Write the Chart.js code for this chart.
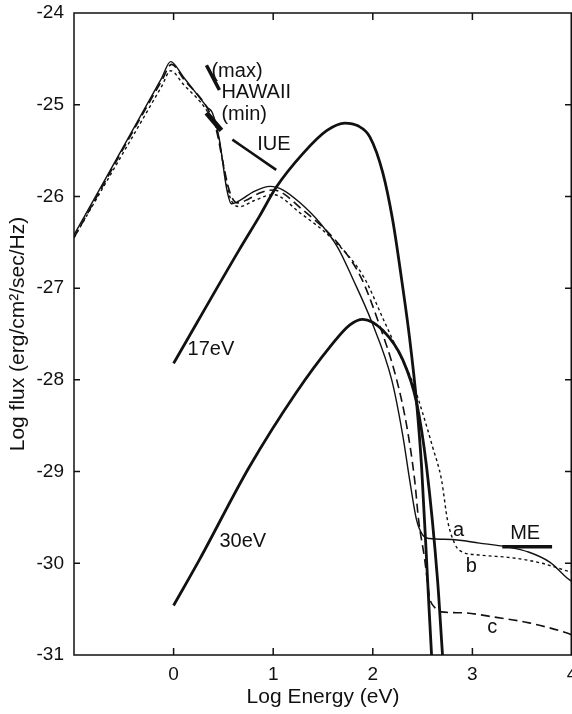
<!DOCTYPE html>
<html>
<head>
<meta charset="utf-8">
<script src="https://cdn.jsdelivr.net/npm/chart.js@4.4.0/dist/chart.umd.min.js"></script>
<style>
    html, body { margin: 0; padding: 0; background: #fff; }
    #canv { display: block; }
</style>
</head>
<body>
<canvas id="canv" width="572" height="714"></canvas>
<script>
// tick values
const xTicks = [0, 1, 2, 3, 4];
const yTicks = [-24, -25, -26, -27, -28, -29, -30, -31];

// curve a (thin solid)
const energyA = [-1, -0.12, -0.03, 0.10, 0.34, 0.39, 0.46, 0.53, 0.58, 0.67, 0.80, 0.97, 1.10, 1.27, 1.47, 1.65, 1.80, 1.99, 2.19, 2.30, 2.37, 2.44, 2.50, 2.57, 2.79, 3.07, 3.34, 3.57, 3.78, 3.95, 4.0];
const fluxA = [-26.42, -24.71, -24.53, -24.70, -25.03, -25.09, -25.38, -25.90, -26.08, -26.04, -25.95, -25.89, -25.93, -26.07, -26.29, -26.56, -26.90, -27.37, -28.00, -28.60, -29.09, -29.53, -29.69, -29.73, -29.74, -29.78, -29.82, -29.88, -29.99, -30.16, -30.20];

// curve b (dotted)
const energyB = [-1, -0.12, -0.03, 0.10, 0.33, 0.44, 0.49, 0.55, 0.60, 0.67, 0.80, 1.00, 1.27, 1.61, 1.91, 2.11, 2.25, 2.39, 2.50, 2.60, 2.69, 2.75, 2.82, 2.87, 3.07, 3.40, 3.70, 3.91, 4.0];
const fluxB = [-26.45, -24.80, -24.63, -24.78, -25.06, -25.30, -25.60, -25.95, -26.08, -26.11, -26.05, -25.98, -26.18, -26.48, -26.88, -27.35, -27.68, -28.00, -28.36, -28.73, -29.09, -29.53, -29.78, -29.86, -29.91, -29.94, -30.00, -30.07, -30.10];

// curve c (dashed)
const energyC = [-1, -0.12, -0.02, 0.10, 0.36, 0.43, 0.49, 0.55, 0.59, 0.64, 0.75, 0.87, 1.00, 1.30, 1.65, 1.88, 2.05, 2.24, 2.34, 2.42, 2.46, 2.52, 2.57, 2.62, 2.69, 2.90, 3.24, 3.57, 3.95, 4.0];
const fluxC = [-26.45, -24.74, -24.56, -24.72, -25.08, -25.28, -25.60, -25.90, -26.02, -26.07, -26.03, -25.96, -25.93, -26.15, -26.51, -26.88, -27.35, -28.00, -28.50, -29.09, -29.53, -29.95, -30.37, -30.48, -30.53, -30.54, -30.59, -30.65, -30.76, -30.78];

// blackbody 17 eV
const energy17 = [0, 0.66, 0.86, 1.03, 1.30, 1.54, 1.72, 1.85, 1.97, 2.10, 2.20, 2.29, 2.37, 2.44, 2.49, 2.55, 2.59, 2.61];
const flux17 = [-27.82, -26.58, -26.22, -25.90, -25.53, -25.28, -25.20, -25.23, -25.35, -25.74, -26.26, -26.91, -27.55, -28.25, -28.95, -30.18, -31.00, -31.30];

// blackbody 30 eV
const energy30 = [0, 0.26, 0.76, 1.23, 1.57, 1.77, 1.90, 2.10, 2.30, 2.44, 2.54, 2.65, 2.70, 2.72];
const flux30 = [-30.46, -29.96, -28.95, -28.14, -27.64, -27.40, -27.34, -27.46, -27.78, -28.25, -28.95, -30.18, -31.00, -31.30];

// observations
const energyMax = [0.33, 0.46];
const fluxMax = [-24.57, -24.84];
const energyMin = [0.33, 0.40, 0.48];
const fluxMin = [-25.09, -25.18, -25.28];
const energyIUE = [0.59, 1.03];
const fluxIUE = [-25.38, -25.71];
const energyME = [3.30, 3.80];
const fluxME = [-29.82, -29.82];

// text labels placed in data coordinates
const notes = [
    {text: '(max)', x: 0.38, y: -24.64, align: 'left'},
    {text: 'HAWAII', x: 0.48, y: -24.87, align: 'left'},
    {text: '(min)', x: 0.48, y: -25.11, align: 'left'},
    {text: 'IUE', x: 0.84, y: -25.43, align: 'left'},
    {text: '17eV', x: 0.14, y: -27.67, align: 'left'},
    {text: '30eV', x: 0.46, y: -29.76, align: 'left'},
    {text: 'a', x: 2.86, y: -29.64, align: 'center'},
    {text: 'b', x: 2.99, y: -30.04, align: 'center'},
    {text: 'c', x: 3.20, y: -30.70, align: 'center'},
    {text: 'ME', x: 3.53, y: -29.67, align: 'center'}
];

const INK = '#111';
const FONT = '"Liberation Sans", Arial, Helvetica, sans-serif';

const pts = (xs, ys) => xs.map((v, i) => ({x: v, y: ys[i]}));

const curve = (xs, ys, width, dash) => ({
    data: pts(xs, ys),
    borderColor: INK,
    borderWidth: width,
    borderDash: dash || [],
    pointRadius: 0,
    fill: false,
    cubicInterpolationMode: 'monotone',
    borderCapStyle: 'butt',
    borderJoinStyle: 'round'
});

const framePlugin = {
    id: 'frame',
    afterDatasetsDraw(chart) {
        const {ctx, chartArea: a, scales: {x, y}} = chart;
        ctx.save();
        ctx.strokeStyle = INK;
        ctx.lineWidth = 1.5;
        ctx.beginPath();
        ctx.rect(a.left, a.top, a.right - a.left - 0.75, a.bottom - a.top);
        xTicks.forEach(v => {
            const px = x.getPixelForValue(v);
            ctx.moveTo(px, a.top); ctx.lineTo(px, a.top + 7);
            ctx.moveTo(px, a.bottom); ctx.lineTo(px, a.bottom - 7);
        });
        yTicks.forEach(v => {
            const py = y.getPixelForValue(v);
            ctx.moveTo(a.left, py); ctx.lineTo(a.left + 6, py);
            ctx.moveTo(a.right, py); ctx.lineTo(a.right - 7, py);
        });
        ctx.stroke();

        ctx.fillStyle = INK;
        ctx.font = '20px ' + FONT;
        ctx.textBaseline = 'middle';
        notes.forEach(n => {
            ctx.textAlign = n.align;
            ctx.fillText(n.text, x.getPixelForValue(n.x), y.getPixelForValue(n.y));
        });
        ctx.restore();
    }
};

new Chart(document.getElementById('canv').getContext('2d'), {
    type: 'line',
    data: {
        datasets: [
            curve(energyA, fluxA, 1.4),
            curve(energyB, fluxB, 1.4, [3, 3]),
            curve(energyC, fluxC, 1.6, [9, 5]),
            curve(energy17, flux17, 2.8),
            curve(energy30, flux30, 2.8),
            curve(energyMax, fluxMax, 3.5),
            curve(energyMin, fluxMin, 5),
            curve(energyIUE, fluxIUE, 2.6),
            curve(energyME, fluxME, 3.5)
        ]
    },
    options: {
        responsive: false,
        animation: false,
        devicePixelRatio: 1,
        layout: {padding: {top: 13, right: 0, left: 0, bottom: 0}},
        plugins: {
            legend: {display: false},
            tooltip: {enabled: false}
        },
        scales: {
            x: {
                type: 'linear',
                min: -1,
                max: 4,
                grid: {display: false, drawTicks: false},
                border: {display: false},
                ticks: {
                    stepSize: 1,
                    padding: 8,
                    color: INK,
                    font: {family: FONT, size: 19},
                    callback: v => (v === -1 ? '' : v)
                },
                title: {
                    display: true,
                    text: 'Log Energy (eV)',
                    color: INK,
                    font: {family: FONT, size: 21},
                    padding: {top: 0, bottom: 4}
                },
                afterFit(s) {
                    s.height = 59;
                    s.paddingLeft = 0;
                    s.paddingRight = 0;
                }
            },
            y: {
                type: 'linear',
                min: -31,
                max: -24,
                grid: {display: false, drawTicks: false},
                border: {display: false},
                ticks: {
                    stepSize: 1,
                    padding: 10,
                    color: INK,
                    font: {family: FONT, size: 19}
                },
                title: {
                    display: true,
                    text: 'Log flux (erg/cm²/sec/Hz)',
                    color: INK,
                    font: {family: FONT, size: 21},
                    padding: {top: 6, bottom: 0}
                },
                afterFit(s) {
                    s.width = 74;
                    s.paddingTop = 0;
                    s.paddingBottom = 0;
                }
            }
        }
    },
    plugins: [framePlugin]
});
</script>
</body>
</html>
